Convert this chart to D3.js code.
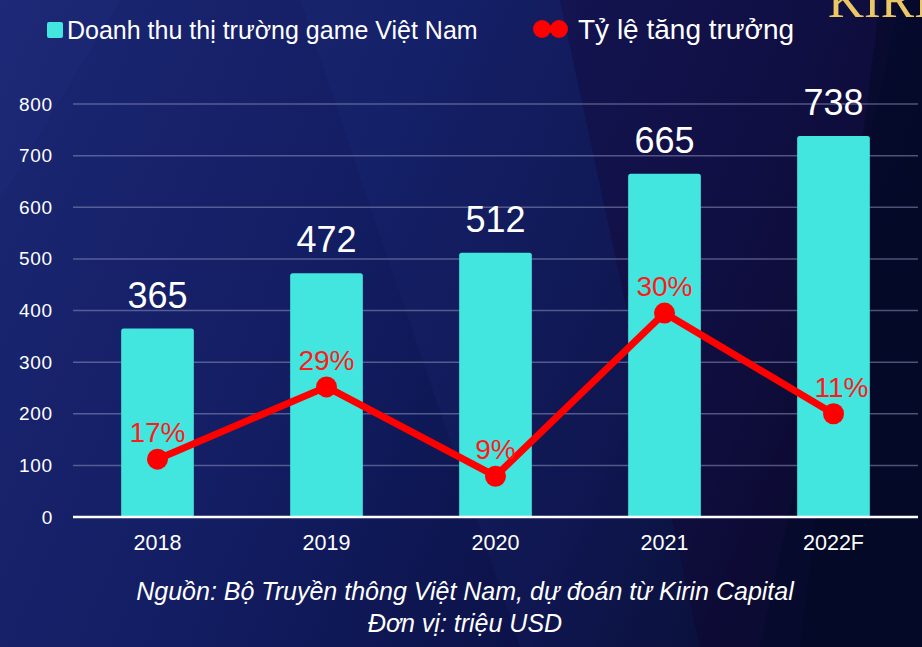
<!DOCTYPE html>
<html><head><meta charset="utf-8">
<script src="https://cdn.jsdelivr.net/npm/d3@7/dist/d3.min.js"></script>
<style>html,body{margin:0;padding:0;background:#111a55;}svg{display:block;}</style>
</head><body>
<svg id="c" width="922" height="647"></svg>
<script>
const categories = ["2018", "2019", "2020", "2021", "2022F"];
const revenue = [365, 472, 512, 665, 738];
const growthLabels = ["17%", "29%", "9%", "30%", "11%"];
// vertical position of the growth markers (chart draws them on a hidden secondary scale)
const growthPos = [112, 252, 79, 395, 200];
const yTicks = [0, 100, 200, 300, 400, 500, 600, 700, 800];

const W = 922, H = 647;
const svg = d3.select("#c");
const defs = svg.append("defs");
const g1 = defs.append("linearGradient").attr("id","bg").attr("x1","0").attr("y1","0").attr("x2","1").attr("y2","0.3");
g1.append("stop").attr("offset","0").attr("stop-color","#1c2774");
g1.append("stop").attr("offset","0.45").attr("stop-color","#121d62");
g1.append("stop").attr("offset","0.8").attr("stop-color","#0c1248");
g1.append("stop").attr("offset","1").attr("stop-color","#060b2e");
svg.append("rect").attr("width",W).attr("height",H).attr("fill","url(#bg)");
// decorative diagonal shapes
svg.append("path").attr("d","M300,0 L560,0 L700,647 L520,647 Z").attr("fill","#2a3a8a").attr("opacity",0.12);
svg.append("path").attr("d","M560,0 L900,0 L760,647 L700,647 Z").attr("fill","#1a0c40").attr("opacity",0.35);
svg.append("path").attr("d","M880,0 L922,0 L922,647 L800,647 Z").attr("fill","#020620").attr("opacity",0.45);
svg.append("path").attr("d","M0,200 L120,0 L0,0 Z").attr("fill","#22307e").attr("opacity",0.25);

const x = d3.scaleBand().domain(categories).range([73, 918]).paddingInner(0.57).paddingOuter(0.285);
const y = d3.scaleLinear().domain([0, 800]).range([517, 104]);

// gridlines
svg.append("g").selectAll("line").data(yTicks.filter(d=>d>0)).join("line")
  .attr("x1",73).attr("x2",918).attr("y1",d=>y(d)).attr("y2",d=>y(d))
  .attr("stroke","#8a90b8").attr("stroke-opacity",0.55).attr("stroke-width",1.5);

// y axis labels
const ya = svg.append("g").attr("transform","translate(53,0)")
  .call(d3.axisLeft(y).tickValues(yTicks).tickSize(0).tickPadding(0));
ya.select(".domain").remove();
ya.selectAll("text").attr("fill","#ffffff").attr("font-family","Liberation Sans, Arial, sans-serif")
  .attr("font-size",19).attr("letter-spacing","0.8px");

// bars
svg.append("g").selectAll("path").data(revenue).join("path")
  .attr("fill","#43e6df")
  .attr("d",(d,i)=>{
    const x0 = x(categories[i]), w = x.bandwidth(), y0 = y(d), y1 = y(0), r = 2.5;
    return `M${x0},${y1} L${x0},${y0+r} Q${x0},${y0} ${x0+r},${y0} L${x0+w-r},${y0} Q${x0+w},${y0} ${x0+w},${y0+r} L${x0+w},${y1} Z`;
  });

// baseline
svg.append("line").attr("x1",73).attr("x2",918).attr("y1",y(0)).attr("y2",y(0))
  .attr("stroke","#ffffff").attr("stroke-width",2.5);

// x axis labels
const xa = svg.append("g").attr("transform",`translate(0,${y(0)})`)
  .call(d3.axisBottom(x).tickSize(0).tickPadding(18));
xa.select(".domain").remove();
xa.selectAll("text").attr("fill","#ffffff").attr("font-family","Liberation Sans, Arial, sans-serif").attr("font-size",21.5);

// bar value labels
svg.append("g").selectAll("text").data(revenue).join("text")
  .attr("x",(d,i)=>x(categories[i])+x.bandwidth()/2)
  .attr("y",d=>y(d)-21)
  .attr("text-anchor","middle").attr("fill","#ffffff")
  .attr("font-family","Liberation Sans, Arial, sans-serif").attr("font-size",36)
  .text(d=>d);

// growth line
const cx = (i)=>x(categories[i])+x.bandwidth()/2;
const line = d3.line().x((d,i)=>cx(i)).y(d=>y(d));
svg.append("path").datum(growthPos).attr("d",line).attr("fill","none")
  .attr("stroke","#ff0000").attr("stroke-width",7).attr("stroke-linejoin","round");
svg.append("g").selectAll("circle").data(growthPos).join("circle")
  .attr("cx",(d,i)=>cx(i)).attr("cy",d=>y(d)).attr("r",10.5).attr("fill","#ff0000");
svg.append("g").selectAll("text").data(growthPos).join("text")
  .attr("x",(d,i)=>cx(i)+(i===4?8:0))
  .attr("y",d=>y(d)-17)
  .attr("text-anchor","middle").attr("fill","#ff1a1a")
  .attr("font-family","Liberation Sans, Arial, sans-serif").attr("font-size",28)
  .text((d,i)=>growthLabels[i]);

// legend
const lg = svg.append("g").attr("font-family","Liberation Sans, Arial, sans-serif").attr("fill","#ffffff");
lg.append("rect").attr("x",47).attr("y",22).attr("width",16).attr("height",16).attr("rx",2).attr("fill","#43e6df");
lg.append("text").attr("x",67).attr("y",39).attr("font-size",25).text("Doanh thu thị trường game Việt Nam");
lg.append("line").attr("x1",541).attr("x2",560).attr("y1",29).attr("y2",29).attr("stroke","#ff0000").attr("stroke-width",7);
lg.append("circle").attr("cx",542).attr("cy",29).attr("r",9).attr("fill","#ff0000");
lg.append("circle").attr("cx",559).attr("cy",29).attr("r",9).attr("fill","#ff0000");
lg.append("text").attr("x",578).attr("y",39).attr("font-size",28).text("Tỷ lệ tăng trưởng");

// logo fragment (clipped by the top/right edge, as in the source)
svg.append("text").attr("x",828).attr("y",17).attr("font-family","Liberation Serif, Times New Roman, serif")
  .attr("font-size",50).attr("fill","#ecc766").text("KIRIN");

// footer
const ft = svg.append("g").attr("font-family","Liberation Sans, Arial, sans-serif").attr("font-style","italic")
  .attr("fill","#ffffff").attr("text-anchor","middle").attr("font-size",25);
ft.append("text").attr("x",465).attr("y",600).text("Nguồn: Bộ Truyền thông Việt Nam, dự đoán từ Kirin Capital");
ft.append("text").attr("x",465).attr("y",632).text("Đơn vị: triệu USD");
</script>
</body></html>
